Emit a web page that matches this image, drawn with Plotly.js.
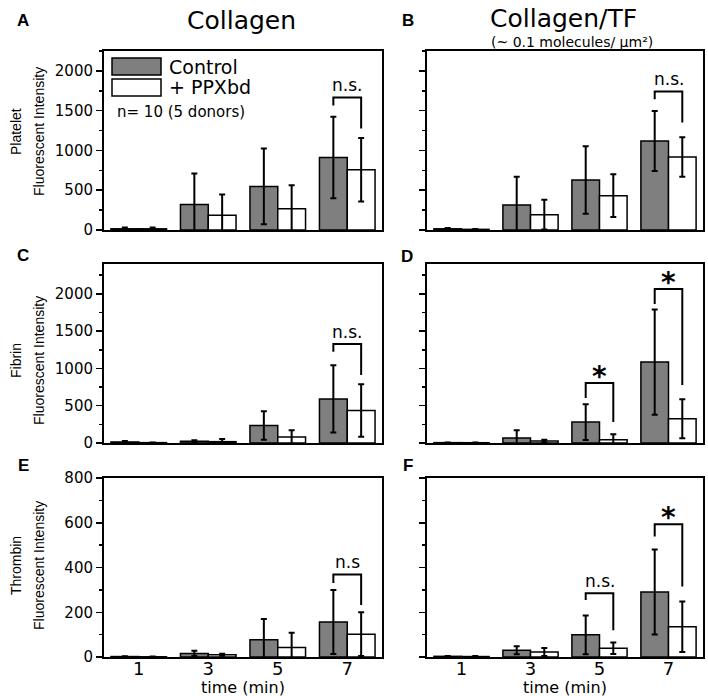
<!DOCTYPE html>
<html>
<head>
<meta charset="utf-8">
<script src="https://cdn.plot.ly/plotly-3.0.1.min.js"></script>
<style>html,body{margin:0;padding:0;background:#fff;}#chart{width:708px;height:696px;}</style>
</head>
<body>
<div id="chart"></div>
<script>
// ---------------- data ----------------
const times = [1, 3, 5, 7];
const timeLabels = ['1', '3', '5', '7'];
const seriesNames = ['Control', '+ PPXbd'];

// Panel A: Platelet, Collagen
const ctrlA = [15, 320, 548, 912];
const ctrlAErr = [15, 390, 475, 512];
const ppxA = [15, 186, 267, 757];
const ppxAErr = [15, 260, 296, 400];
// Panel B: Platelet, Collagen/TF
const ctrlB = [15, 315, 629, 1120];
const ctrlBErr = [10, 355, 425, 377];
const ppxB = [8, 193, 432, 918];
const ppxBErr = [5, 188, 270, 248];
// Panel C: Fibrin, Collagen
const ctrlC = [14, 22, 235, 591];
const ctrlCErr = [12, 14, 190, 451];
const ppxC = [5, 18, 81, 437];
const ppxCErr = [3, 36, 90, 352];
// Panel D: Fibrin, Collagen/TF
const ctrlD = [5, 68, 280, 1085];
const ctrlDErr = [3, 103, 239, 705];
const ppxD = [4, 27, 45, 325];
const ppxDErr = [2, 18, 72, 262];
// Panel E: Thrombin, Collagen
const ctrlE = [2, 16, 77, 156];
const ctrlEErr = [1, 12, 93, 143];
const ppxE = [1, 10, 42, 102];
const ppxEErr = [1, 4, 66, 98];
// Panel F: Thrombin, Collagen/TF
const ctrlF = [3, 30, 99, 291];
const ctrlFErr = [2, 18, 87, 190];
const ppxF = [2, 22, 39, 135];
const ppxFErr = [2, 18, 26, 113];

// significance brackets: [time, top, leftLegBottom, rightLegBottom, label]
const bracketsA = [[7, 1667, 1566, 1277, 'n.s.']];
const bracketsB = [[7, 1742, 1642, 1352, 'n.s.']];
const bracketsC = [[7, 1327, 1224, 912, 'n.s.']];
const bracketsD = [[5, 804, 603, 282, '*'], [7, 2064, 1863, 777, '*']];
const bracketsE = [[7, 369, 331, 232, 'n.s']];
const bracketsF = [[5, 285, 255, 120, 'n.s.'], [7, 593, 538, 315, '*']];

const yRanges = { A: [0, 2250], B: [0, 2250], C: [0, 2400], D: [0, 2400], E: [0, 800], F: [0, 800] };
const yDticks = { A: 500, B: 500, C: 500, D: 500, E: 200, F: 200 };
const rowLabels = ['Platelet', 'Fibrin', 'Thrombin'];
const colTitles = ['Collagen', 'Collagen/TF'];
const colSubtitle = '(~ 0.1 molecules/ µm²)';
const nText = 'n= 10 (5 donors)';
const xTitle = 'time (min)';
const yTitle2 = 'Fluorescent Intensity';

// ---------------- layout helpers ----------------
const W = 708, H = 696;
const px = v => v / W;
const py = v => 1 - v / H;
const FONT = 'DejaVu Sans, Liberation Sans, Arial, sans-serif';
const ARIAL = 'Liberation Sans, Arial, sans-serif';
const GRAY = '#7f7f7f';

const panels = [
  { key: 'A', ctrl: ctrlA, ce: ctrlAErr, ppx: ppxA, pe: ppxAErr, br: bracketsA, col: 0, row: 0 },
  { key: 'B', ctrl: ctrlB, ce: ctrlBErr, ppx: ppxB, pe: ppxBErr, br: bracketsB, col: 1, row: 0 },
  { key: 'C', ctrl: ctrlC, ce: ctrlCErr, ppx: ppxC, pe: ppxCErr, br: bracketsC, col: 0, row: 1 },
  { key: 'D', ctrl: ctrlD, ce: ctrlDErr, ppx: ppxD, pe: ppxDErr, br: bracketsD, col: 1, row: 1 },
  { key: 'E', ctrl: ctrlE, ce: ctrlEErr, ppx: ppxE, pe: ppxEErr, br: bracketsE, col: 0, row: 2 },
  { key: 'F', ctrl: ctrlF, ce: ctrlFErr, ppx: ppxF, pe: ppxFErr, br: bracketsF, col: 1, row: 2 }
];
const colPx = [[104, 382], [427, 703]];
const rowPx = [[51, 230], [264, 443], [478, 657]];
const letterPos = [[23, 20], [408, 20], [23, 255], [407, 256], [23, 465], [408, 465]];

const traces = [];
const annotations = [];
const shapes = [];
const layout = {
  width: W, height: H,
  margin: { l: 0, r: 0, t: 0, b: 0 },
  paper_bgcolor: '#fff', plot_bgcolor: '#fff',
  showlegend: false,
  barmode: 'overlay',
  font: { family: FONT, color: '#000' }
};

panels.forEach((p, i) => {
  const n = i + 1;
  const xa = n === 1 ? 'x' : 'x' + n;
  const ya = n === 1 ? 'y' : 'y' + n;
  const xk = n === 1 ? 'xaxis' : 'xaxis' + n;
  const yk = n === 1 ? 'yaxis' : 'yaxis' + n;
  const cx = colPx[p.col], ry = rowPx[p.row];
  layout[xk] = {
    domain: [px(cx[0]), px(cx[1])], anchor: ya, range: [0, 8],
    showline: true, mirror: true, linewidth: 2, linecolor: '#000',
    showgrid: false, zeroline: false, ticks: '', ticklabelstandoff: -6,
    tickmode: 'array', tickvals: times, ticktext: timeLabels,
    showticklabels: p.row === 2, tickfont: { size: 18, family: FONT, color: '#000' }
  };
  layout[yk] = {
    domain: [py(ry[1]), py(ry[0])], anchor: xa, range: yRanges[p.key],
    showline: true, mirror: true, linewidth: 2, linecolor: '#000',
    showgrid: false, zeroline: false,
    tick0: 0, dtick: yDticks[p.key], ticks: 'outside', ticklen: 6, tickwidth: 1.5, tickcolor: '#000',
    minor: { dtick: yDticks[p.key] / 2, ticks: 'outside', ticklen: 3, tickwidth: 1.5, tickcolor: '#000', showgrid: false },
    showticklabels: p.col === 0, tickfont: { size: 15, family: FONT, color: '#000' }
  };
  traces.push({
    type: 'bar', x: times, y: p.ctrl, name: seriesNames[0], xaxis: xa, yaxis: ya,
    width: 0.8, offset: -0.8,
    marker: { color: GRAY, line: { color: '#000', width: 1.5 } },
    error_y: { type: 'data', array: p.ce, visible: true, color: '#000', thickness: 2, width: 3 }
  });
  traces.push({
    type: 'bar', x: times, y: p.ppx, name: seriesNames[1], xaxis: xa, yaxis: ya,
    width: 0.8, offset: 0,
    marker: { color: '#fff', line: { color: '#000', width: 1.5 } },
    error_y: { type: 'data', array: p.pe, visible: true, color: '#000', thickness: 2, width: 3 }
  });
  p.br.forEach(b => {
    const [t, top, lb, rb, lab] = b;
    traces.push({
      type: 'scatter', mode: 'lines', xaxis: xa, yaxis: ya, hoverinfo: 'skip',
      x: [t - 0.4, t - 0.4, t + 0.4, t + 0.4], y: [lb, top, top, rb],
      line: { color: '#000', width: 2 }
    });
    const star = lab === '*';
    annotations.push({
      xref: xa, yref: ya, x: t, y: top, text: lab, showarrow: false,
      xanchor: 'center', yanchor: 'bottom', yshift: star ? -12 : 0,
      font: { size: star ? 28 : 17, family: FONT, color: '#000', weight: star ? 'bold' : 'normal' }
    });
  });
  annotations.push({
    xref: 'paper', yref: 'paper', x: px(letterPos[i][0]), y: py(letterPos[i][1]),
    text: '<b>' + p.key + '</b>', showarrow: false, xanchor: 'center', yanchor: 'middle',
    font: { size: 17, family: ARIAL, color: '#000' }
  });
  if (p.row === 2) {
    annotations.push({
      xref: 'paper', yref: 'paper', x: px((cx[0] + cx[1]) / 2), y: py(687),
      text: xTitle, showarrow: false, xanchor: 'center', yanchor: 'middle',
      font: { size: 16, family: FONT, color: '#000' }
    });
  }
});

// row (y-axis) titles
const rowCenters = [132, 361, 566];
rowLabels.forEach((lab, r) => {
  annotations.push({
    xref: 'paper', yref: 'paper', x: px(16), y: py(rowCenters[r]), text: lab, textangle: -90,
    showarrow: false, xanchor: 'center', yanchor: 'middle', font: { size: 14, family: ARIAL, color: '#000' }
  });
  annotations.push({
    xref: 'paper', yref: 'paper', x: px(39), y: py(rowCenters[r]), text: yTitle2, textangle: -90,
    showarrow: false, xanchor: 'center', yanchor: 'middle', font: { size: 14, family: ARIAL, color: '#000' }
  });
});

// column titles
annotations.push({ xref: 'paper', yref: 'paper', x: px(241), y: py(20), text: colTitles[0], showarrow: false,
  xanchor: 'center', yanchor: 'middle', font: { size: 25, family: FONT, color: '#000' } });
annotations.push({ xref: 'paper', yref: 'paper', x: px(563), y: py(19), text: colTitles[1], showarrow: false,
  xanchor: 'center', yanchor: 'middle', font: { size: 25, family: FONT, color: '#000' } });
annotations.push({ xref: 'paper', yref: 'paper', x: px(572), y: py(42), text: colSubtitle, showarrow: false,
  xanchor: 'center', yanchor: 'middle', font: { size: 14, family: FONT, color: '#000' } });

// legend (drawn in panel A)
shapes.push({ type: 'rect', xref: 'paper', yref: 'paper', x0: px(112), x1: px(161), y0: py(75), y1: py(58),
  fillcolor: GRAY, line: { color: '#000', width: 1.5 } });
shapes.push({ type: 'rect', xref: 'paper', yref: 'paper', x0: px(112), x1: px(161), y0: py(96), y1: py(79),
  fillcolor: '#fff', line: { color: '#000', width: 1.5 } });
annotations.push({ xref: 'paper', yref: 'paper', x: px(167), y: py(66.5), text: seriesNames[0], showarrow: false,
  xanchor: 'left', yanchor: 'middle', font: { size: 19, family: FONT, color: '#000' } });
annotations.push({ xref: 'paper', yref: 'paper', x: px(167), y: py(87.5), text: seriesNames[1], showarrow: false,
  xanchor: 'left', yanchor: 'middle', font: { size: 19, family: FONT, color: '#000' } });
annotations.push({ xref: 'paper', yref: 'paper', x: px(115), y: py(112), text: nText, showarrow: false,
  xanchor: 'left', yanchor: 'middle', font: { size: 15, family: FONT, color: '#000' } });

layout.annotations = annotations;
layout.shapes = shapes;

Plotly.newPlot('chart', traces, layout, { staticPlot: true, displayModeBar: false });
</script>
</body>
</html>
